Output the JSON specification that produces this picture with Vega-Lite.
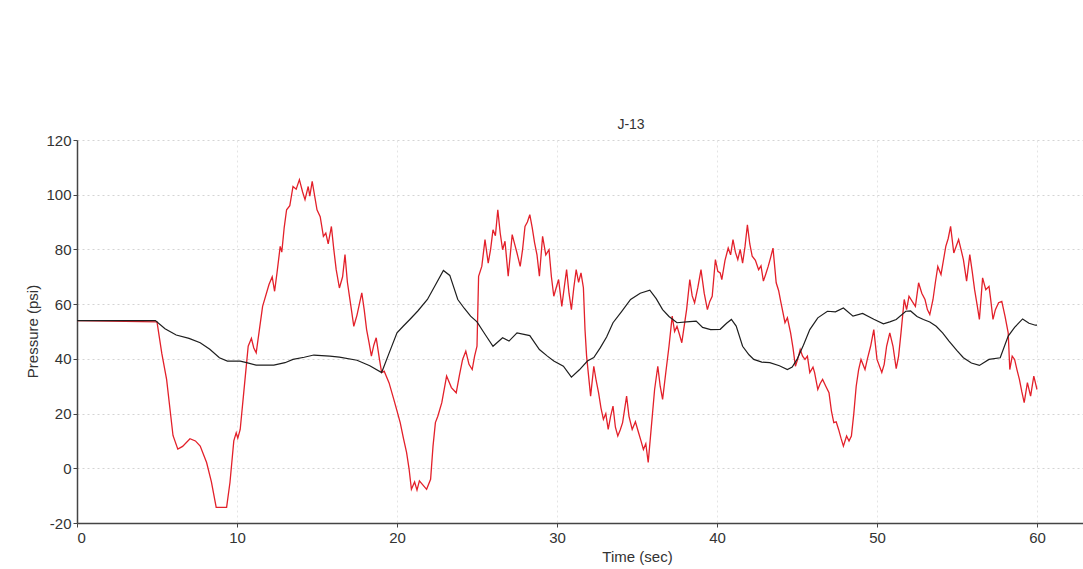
{
  "$schema": "https://vega.github.io/schema/vega-lite/v6.json",
  "autosize": "none",
  "padding": {"left": 77, "top": 140, "right": 0, "bottom": 46},
  "width": 1006,
  "height": 383,
  "background": "white",
  "config": {
    "view": {"stroke": null},
    "font": "Liberation Sans"
  },
  "title": {
    "text": "J-13",
    "anchor": "middle",
    "dx": 51,
    "dy": 21,
    "offset": 11,
    "baseline": "alphabetic",
    "fontSize": 14,
    "fontWeight": "normal",
    "font": "Liberation Sans",
    "color": "#333333"
  },
  "datasets": {
    "red": [
      {"t": 0, "p": 54}, {"t": 5.0, "p": 53.5}, {"t": 5.3, "p": 42}, {"t": 5.6, "p": 32.5}, {"t": 6.0, "p": 12},
      {"t": 6.3, "p": 7}, {"t": 6.6, "p": 8}, {"t": 7.06, "p": 10.8}, {"t": 7.4, "p": 10}, {"t": 7.7, "p": 8.1},
      {"t": 8.1, "p": 2.1}, {"t": 8.4, "p": -5}, {"t": 8.7, "p": -14.3}, {"t": 9.35, "p": -14.3}, {"t": 9.56, "p": -5.2},
      {"t": 9.8, "p": 10}, {"t": 9.95, "p": 13}, {"t": 10.05, "p": 11}, {"t": 10.2, "p": 14.2}, {"t": 10.4, "p": 26.4},
      {"t": 10.7, "p": 44.6}, {"t": 10.9, "p": 47.5}, {"t": 11.05, "p": 44}, {"t": 11.2, "p": 42.2}, {"t": 11.4, "p": 50.7},
      {"t": 11.6, "p": 59.2}, {"t": 12.0, "p": 67.2}, {"t": 12.2, "p": 70}, {"t": 12.35, "p": 64.7}, {"t": 12.5, "p": 71.4},
      {"t": 12.7, "p": 81.1}, {"t": 12.8, "p": 79}, {"t": 12.95, "p": 88}, {"t": 13.1, "p": 94.5}, {"t": 13.3, "p": 96},
      {"t": 13.5, "p": 103}, {"t": 13.7, "p": 102}, {"t": 13.9, "p": 105.5}, {"t": 14.1, "p": 101}, {"t": 14.25, "p": 98.2},
      {"t": 14.45, "p": 103}, {"t": 14.55, "p": 99.5}, {"t": 14.7, "p": 104.9}, {"t": 15.0, "p": 94.5}, {"t": 15.2, "p": 92},
      {"t": 15.4, "p": 84.8}, {"t": 15.55, "p": 86}, {"t": 15.7, "p": 82}, {"t": 15.9, "p": 88.4}, {"t": 16.05, "p": 80},
      {"t": 16.2, "p": 72.6}, {"t": 16.4, "p": 65.9}, {"t": 16.6, "p": 70}, {"t": 16.75, "p": 78.1}, {"t": 16.9, "p": 68},
      {"t": 17.1, "p": 60}, {"t": 17.3, "p": 51.9}, {"t": 17.5, "p": 56}, {"t": 17.8, "p": 64.1}, {"t": 17.95, "p": 58},
      {"t": 18.1, "p": 50.7}, {"t": 18.25, "p": 46}, {"t": 18.4, "p": 41}, {"t": 18.55, "p": 45}, {"t": 18.7, "p": 47.7},
      {"t": 18.9, "p": 40}, {"t": 19.04, "p": 35}, {"t": 19.2, "p": 35.5}, {"t": 19.5, "p": 31.3}, {"t": 19.8, "p": 25.2},
      {"t": 20.0, "p": 21}, {"t": 20.2, "p": 16.7}, {"t": 20.4, "p": 11}, {"t": 20.6, "p": 5.7}, {"t": 20.75, "p": 0},
      {"t": 20.9, "p": -7.7}, {"t": 21.1, "p": -5}, {"t": 21.25, "p": -8}, {"t": 21.4, "p": -4.6}, {"t": 21.6, "p": -6},
      {"t": 21.85, "p": -7.7}, {"t": 22.1, "p": -4}, {"t": 22.25, "p": 8}, {"t": 22.4, "p": 16.7}, {"t": 22.55, "p": 19},
      {"t": 22.8, "p": 24}, {"t": 23.1, "p": 33.7}, {"t": 23.4, "p": 29.5}, {"t": 23.7, "p": 27.6}, {"t": 23.9, "p": 34},
      {"t": 24.1, "p": 39.8}, {"t": 24.3, "p": 42.8}, {"t": 24.5, "p": 38}, {"t": 24.7, "p": 36.1}, {"t": 24.85, "p": 41},
      {"t": 25.0, "p": 44.6}, {"t": 25.1, "p": 70.2}, {"t": 25.3, "p": 73.8}, {"t": 25.5, "p": 83.6}, {"t": 25.7, "p": 75},
      {"t": 25.85, "p": 80}, {"t": 26.0, "p": 87.2}, {"t": 26.15, "p": 85}, {"t": 26.3, "p": 94.5}, {"t": 26.45, "p": 86},
      {"t": 26.6, "p": 79.9}, {"t": 26.75, "p": 83}, {"t": 26.95, "p": 70.2}, {"t": 27.2, "p": 85.4}, {"t": 27.35, "p": 82},
      {"t": 27.5, "p": 78.7}, {"t": 27.7, "p": 73.8}, {"t": 27.85, "p": 80}, {"t": 28.0, "p": 88.4}, {"t": 28.15, "p": 90},
      {"t": 28.3, "p": 92.7}, {"t": 28.45, "p": 88}, {"t": 28.6, "p": 82.4}, {"t": 28.75, "p": 78}, {"t": 28.9, "p": 70.2},
      {"t": 29.1, "p": 84.8}, {"t": 29.3, "p": 78}, {"t": 29.5, "p": 79.9}, {"t": 29.65, "p": 70}, {"t": 29.8, "p": 62.9},
      {"t": 29.95, "p": 66}, {"t": 30.1, "p": 69}, {"t": 30.3, "p": 59.2}, {"t": 30.45, "p": 66}, {"t": 30.6, "p": 72.6},
      {"t": 30.75, "p": 64}, {"t": 30.9, "p": 58}, {"t": 31.05, "p": 66}, {"t": 31.2, "p": 72.6}, {"t": 31.35, "p": 68},
      {"t": 31.5, "p": 71.4}, {"t": 31.65, "p": 66}, {"t": 31.75, "p": 50.7}, {"t": 31.85, "p": 41}, {"t": 32.1, "p": 26.4},
      {"t": 32.3, "p": 37.3}, {"t": 32.45, "p": 32}, {"t": 32.6, "p": 27.6}, {"t": 32.75, "p": 22}, {"t": 32.9, "p": 17.9},
      {"t": 33.05, "p": 20}, {"t": 33.2, "p": 14.2}, {"t": 33.35, "p": 19}, {"t": 33.5, "p": 22.7}, {"t": 33.65, "p": 15},
      {"t": 33.8, "p": 11.8}, {"t": 33.95, "p": 14}, {"t": 34.1, "p": 16.7}, {"t": 34.35, "p": 26.4}, {"t": 34.5, "p": 19},
      {"t": 34.7, "p": 14.2}, {"t": 34.9, "p": 17}, {"t": 35.1, "p": 13}, {"t": 35.25, "p": 10}, {"t": 35.4, "p": 6.9},
      {"t": 35.55, "p": 9}, {"t": 35.7, "p": 2.1}, {"t": 35.9, "p": 15.4}, {"t": 36.1, "p": 28.8}, {"t": 36.3, "p": 37.3},
      {"t": 36.45, "p": 30}, {"t": 36.6, "p": 25.2}, {"t": 36.8, "p": 35}, {"t": 37.0, "p": 44.6}, {"t": 37.2, "p": 55.6},
      {"t": 37.35, "p": 50}, {"t": 37.5, "p": 51.9}, {"t": 37.65, "p": 49}, {"t": 37.8, "p": 45.9}, {"t": 38.0, "p": 54},
      {"t": 38.1, "p": 58}, {"t": 38.3, "p": 69}, {"t": 38.45, "p": 63}, {"t": 38.6, "p": 60.5}, {"t": 38.8, "p": 66},
      {"t": 39.0, "p": 72.6}, {"t": 39.2, "p": 64}, {"t": 39.4, "p": 58}, {"t": 39.55, "p": 61}, {"t": 39.7, "p": 62.9},
      {"t": 39.9, "p": 76.3}, {"t": 40.05, "p": 72}, {"t": 40.2, "p": 71.4}, {"t": 40.3, "p": 69}, {"t": 40.5, "p": 76},
      {"t": 40.7, "p": 80.5}, {"t": 40.85, "p": 78}, {"t": 41.0, "p": 83.6}, {"t": 41.15, "p": 79}, {"t": 41.3, "p": 76.3},
      {"t": 41.45, "p": 80}, {"t": 41.6, "p": 75}, {"t": 41.75, "p": 81}, {"t": 41.9, "p": 89}, {"t": 42.05, "p": 82},
      {"t": 42.2, "p": 77.5}, {"t": 42.4, "p": 76}, {"t": 42.6, "p": 72.6}, {"t": 42.75, "p": 74}, {"t": 42.9, "p": 68.4},
      {"t": 43.05, "p": 71}, {"t": 43.2, "p": 73.8}, {"t": 43.35, "p": 77}, {"t": 43.5, "p": 80.5}, {"t": 43.7, "p": 67.8},
      {"t": 43.85, "p": 65}, {"t": 44.0, "p": 60.5}, {"t": 44.25, "p": 53.2}, {"t": 44.4, "p": 55}, {"t": 44.6, "p": 49.5},
      {"t": 44.75, "p": 44}, {"t": 44.9, "p": 37.3}, {"t": 45.05, "p": 40}, {"t": 45.2, "p": 43.4}, {"t": 45.35, "p": 41},
      {"t": 45.5, "p": 39.8}, {"t": 45.65, "p": 41}, {"t": 45.8, "p": 35}, {"t": 46.0, "p": 37}, {"t": 46.1, "p": 35},
      {"t": 46.3, "p": 28.8}, {"t": 46.45, "p": 31}, {"t": 46.6, "p": 32.5}, {"t": 46.8, "p": 30}, {"t": 47.0, "p": 27.6},
      {"t": 47.15, "p": 21}, {"t": 47.3, "p": 16.7}, {"t": 47.45, "p": 17}, {"t": 47.6, "p": 14.2}, {"t": 47.75, "p": 11},
      {"t": 47.9, "p": 8.1}, {"t": 48.1, "p": 11.8}, {"t": 48.25, "p": 10}, {"t": 48.4, "p": 11.8}, {"t": 48.55, "p": 20},
      {"t": 48.7, "p": 30}, {"t": 48.85, "p": 36}, {"t": 49.0, "p": 39.8}, {"t": 49.25, "p": 36.1}, {"t": 49.4, "p": 40},
      {"t": 49.6, "p": 44.6}, {"t": 49.8, "p": 50.7}, {"t": 50.0, "p": 39.8}, {"t": 50.3, "p": 35}, {"t": 50.45, "p": 38},
      {"t": 50.6, "p": 44.6}, {"t": 50.8, "p": 49.5}, {"t": 51.0, "p": 44.6}, {"t": 51.2, "p": 36.4}, {"t": 51.35, "p": 41},
      {"t": 51.5, "p": 49.5}, {"t": 51.7, "p": 61.7}, {"t": 51.85, "p": 58}, {"t": 52.0, "p": 62.9}, {"t": 52.2, "p": 61},
      {"t": 52.4, "p": 59.2}, {"t": 52.6, "p": 67.8}, {"t": 52.8, "p": 64}, {"t": 53.0, "p": 61.7}, {"t": 53.15, "p": 58},
      {"t": 53.3, "p": 56.2}, {"t": 53.5, "p": 61.7}, {"t": 53.65, "p": 68}, {"t": 53.8, "p": 73.8}, {"t": 54.0, "p": 70.8},
      {"t": 54.3, "p": 81.1}, {"t": 54.45, "p": 84}, {"t": 54.6, "p": 88.4}, {"t": 54.8, "p": 78.7}, {"t": 55.1, "p": 83.6},
      {"t": 55.25, "p": 80}, {"t": 55.4, "p": 76.3}, {"t": 55.6, "p": 68.4}, {"t": 55.8, "p": 78.1}, {"t": 55.95, "p": 72},
      {"t": 56.1, "p": 65.3}, {"t": 56.25, "p": 60}, {"t": 56.4, "p": 54.4}, {"t": 56.6, "p": 69.6}, {"t": 56.8, "p": 65.3},
      {"t": 57.0, "p": 66.5}, {"t": 57.1, "p": 62}, {"t": 57.25, "p": 54.4}, {"t": 57.4, "p": 58}, {"t": 57.6, "p": 60.5},
      {"t": 57.8, "p": 61}, {"t": 58.0, "p": 55.6}, {"t": 58.2, "p": 49.5}, {"t": 58.3, "p": 36.1}, {"t": 58.45, "p": 41},
      {"t": 58.6, "p": 39.8}, {"t": 58.75, "p": 36}, {"t": 58.9, "p": 32.5}, {"t": 59.05, "p": 28}, {"t": 59.2, "p": 24},
      {"t": 59.4, "p": 31.3}, {"t": 59.6, "p": 26.4}, {"t": 59.8, "p": 33.7}, {"t": 60.0, "p": 28.8}
    ],
    "black": [
      {"t": 0, "p": 54}, {"t": 4.9, "p": 54}, {"t": 5.5, "p": 51}, {"t": 6.2, "p": 48.7}, {"t": 7.0, "p": 47.5},
      {"t": 7.7, "p": 45.9}, {"t": 8.3, "p": 43.5}, {"t": 8.9, "p": 40.4}, {"t": 9.4, "p": 39.2}, {"t": 10.2, "p": 39.2},
      {"t": 10.6, "p": 38.6}, {"t": 11.2, "p": 37.7}, {"t": 12.3, "p": 37.7}, {"t": 13.0, "p": 38.6}, {"t": 13.5, "p": 39.8},
      {"t": 14.2, "p": 40.6}, {"t": 14.8, "p": 41.4}, {"t": 15.8, "p": 41}, {"t": 16.4, "p": 40.6}, {"t": 17.5, "p": 39.5},
      {"t": 18.3, "p": 37.5}, {"t": 19.04, "p": 35}, {"t": 19.5, "p": 42}, {"t": 20.0, "p": 49.5}, {"t": 20.4, "p": 52},
      {"t": 20.8, "p": 54.4}, {"t": 21.3, "p": 57.5}, {"t": 21.9, "p": 61.7}, {"t": 22.4, "p": 67}, {"t": 22.9, "p": 72.3},
      {"t": 23.3, "p": 70.5}, {"t": 23.8, "p": 61.7}, {"t": 24.2, "p": 58.5}, {"t": 24.6, "p": 55.6}, {"t": 25.0, "p": 53.5},
      {"t": 25.5, "p": 49}, {"t": 26.0, "p": 44.6}, {"t": 26.6, "p": 47.7}, {"t": 27.0, "p": 46.5}, {"t": 27.5, "p": 49.5},
      {"t": 28.3, "p": 48.5}, {"t": 28.9, "p": 43.4}, {"t": 29.4, "p": 41}, {"t": 29.8, "p": 39.2}, {"t": 30.4, "p": 37.3},
      {"t": 30.9, "p": 33.3}, {"t": 31.4, "p": 36}, {"t": 31.9, "p": 39.2}, {"t": 32.3, "p": 40.5}, {"t": 32.7, "p": 44},
      {"t": 33.1, "p": 48}, {"t": 33.5, "p": 53.2}, {"t": 34.0, "p": 57}, {"t": 34.6, "p": 61.7}, {"t": 35.2, "p": 64},
      {"t": 35.8, "p": 65.1}, {"t": 36.2, "p": 62}, {"t": 36.6, "p": 58}, {"t": 37.0, "p": 55.5}, {"t": 37.5, "p": 53.2},
      {"t": 38.1, "p": 53.5}, {"t": 38.7, "p": 53.8}, {"t": 39.1, "p": 51.5}, {"t": 39.6, "p": 50.7}, {"t": 40.2, "p": 50.8},
      {"t": 40.6, "p": 53}, {"t": 40.9, "p": 54.4}, {"t": 41.2, "p": 52}, {"t": 41.6, "p": 44.6}, {"t": 42.0, "p": 41.5},
      {"t": 42.3, "p": 39.8}, {"t": 42.8, "p": 38.8}, {"t": 43.3, "p": 38.6}, {"t": 43.9, "p": 37.5}, {"t": 44.4, "p": 36.1},
      {"t": 44.7, "p": 37}, {"t": 45.0, "p": 39.8}, {"t": 45.4, "p": 45}, {"t": 45.8, "p": 50.7}, {"t": 46.3, "p": 55},
      {"t": 46.9, "p": 57.4}, {"t": 47.4, "p": 57.2}, {"t": 47.9, "p": 58.6}, {"t": 48.5, "p": 55.6}, {"t": 49.1, "p": 56.6},
      {"t": 49.8, "p": 54.5}, {"t": 50.4, "p": 52.8}, {"t": 50.8, "p": 53.5}, {"t": 51.2, "p": 54.4}, {"t": 51.8, "p": 57.4},
      {"t": 52.1, "p": 57.5}, {"t": 52.5, "p": 55.5}, {"t": 52.9, "p": 54.4}, {"t": 53.3, "p": 53.5}, {"t": 53.7, "p": 51.9},
      {"t": 54.1, "p": 49.5}, {"t": 54.5, "p": 46.5}, {"t": 55.0, "p": 43}, {"t": 55.4, "p": 40.4}, {"t": 55.9, "p": 38.5},
      {"t": 56.4, "p": 37.6}, {"t": 57.0, "p": 39.8}, {"t": 57.7, "p": 40.4}, {"t": 58.2, "p": 48.3}, {"t": 58.6, "p": 51.5},
      {"t": 59.1, "p": 54.6}, {"t": 59.5, "p": 53}, {"t": 59.9, "p": 52.3}, {"t": 60.0, "p": 52.3}
    ]
  },
  "encoding": {
    "x": {
      "field": "t",
      "type": "quantitative",
      "scale": {"domain": [0, 62.875], "nice": false, "zero": false},
      "axis": {
        "values": [0, 10, 20, 30, 40, 50, 60],
        "grid": true,
        "gridColor": "#e4e4e4",
        "gridDash": [2, 3],
        "domainColor": "#444444",
        "domainWidth": 1.5,
        "tickColor": "#444444",
        "tickSize": 4,
        "labelFont": "Liberation Sans",
        "labelFontSize": 15,
        "labelColor": "#333333",
        "labelPadding": 3,
        "title": "Time (sec)",
        "titleFont": "Liberation Sans",
        "titleFontSize": 15,
        "titleFontWeight": "normal",
        "titleColor": "#333333",
        "titleX": 560,
        "titleY": 26,
        "titleBaseline": "top",
        "titleAlign": "center"
      }
    },
    "y": {
      "field": "p",
      "type": "quantitative",
      "scale": {"domain": [-20, 120], "nice": false, "zero": false},
      "axis": {
        "values": [-20, 0, 20, 40, 60, 80, 100, 120],
        "labelExpr": "datum.value < 0 ? '-' + abs(datum.value) : '' + datum.value",
        "grid": true,
        "gridColor": "#d4d4d4",
        "gridDash": [2, 3],
        "domainColor": "#444444",
        "domainWidth": 1.5,
        "tickColor": "#444444",
        "tickSize": 4,
        "labelFont": "Liberation Sans",
        "labelFontSize": 15,
        "labelColor": "#333333",
        "labelPadding": 2,
        "title": "Pressure (psi)",
        "titleFont": "Liberation Sans",
        "titleFontSize": 15,
        "titleFontWeight": "normal",
        "titleColor": "#333333",
        "titleX": -45,
        "titleY": 191,
        "titleAngle": 270,
        "titleAlign": "center",
        "titleBaseline": "middle"
      }
    }
  },
  "layer": [
    {
      "data": {"name": "red"},
      "mark": {"type": "line", "color": "#e3202a", "strokeWidth": 1.3, "clip": true}
    },
    {
      "data": {"name": "black"},
      "mark": {"type": "line", "color": "#1e1e1e", "strokeWidth": 1.2, "clip": true}
    }
  ]
}
